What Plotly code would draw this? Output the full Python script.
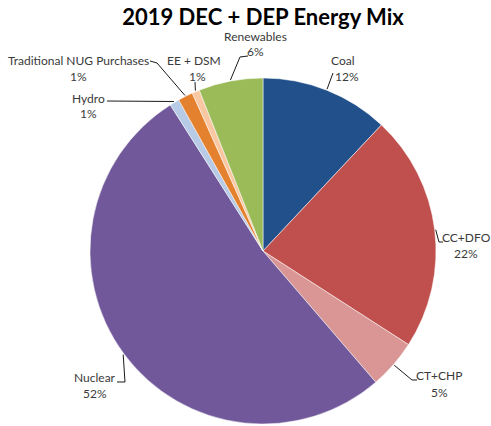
import math
import plotly.graph_objects as go

# Generation mix shares (percent of total), clockwise from 12 o'clock
sources = ["Coal", "CC+DFO", "CT+CHP", "Nuclear", "Hydro",
           "Traditional NUG Purchases", "EE + DSM", "Renewables"]
shares = [12.0, 22.1, 4.6, 52.3, 0.9, 1.4, 0.7, 6.0]
colors = ["#21508A", "#C0504D", "#D99694", "#71589A", "#B7CBE6",
          "#E4812F", "#F9C7A2", "#9BBB59"]

W, H = 491, 426
CX, CY, R = 263, 251, 173  # pie centre and radius in pixels

# Label placement (pixels): name centre, percent centre, leader-line bends
label_layout = {
    "Coal": ((343, 60), (347, 76), [(333, 73)]),
    "CC+DFO": ((466, 238), (466, 253), [(443, 242), (439, 242)]),
    "CT+CHP": ((439, 375), (439, 392), [(417, 380), (412, 380)]),
    "Nuclear": ((95, 377), (95, 393), [(117, 382), (125, 382)]),
    "Hydro": ((88, 98), (88, 114), [(107, 101)]),
    "Traditional NUG Purchases": ((78, 61), (78, 76), [(150, 61), (157, 63)]),
    "EE + DSM": ((194, 60), (197, 76), [(195, 82)]),
    "Renewables": ((255, 36), (255, 52), [(248, 56), (240, 57)]),
}


def px(x):
    return x / W


def py(y):
    return 1 - y / H


fig = go.Figure(go.Pie(
    labels=sources,
    values=shares,
    sort=False,
    direction="clockwise",
    rotation=0,
    marker=dict(colors=colors, line=dict(color="white", width=0.5)),
    textinfo="none",
    hoverinfo="label+percent",
    domain=dict(x=[(CX - R) / W, (CX + R) / W],
                y=[(H - CY - R) / H, (H - CY + R) / H]),
    showlegend=False,
))

total = sum(shares)
annotations = []
shapes = []
cum = 0.0
for name, val in zip(sources, shares):
    theta = 2 * math.pi * (cum + val / 2) / total
    cum += val
    ax = CX + (R + 1) * math.sin(theta)
    ay = CY - (R + 1) * math.cos(theta)
    name_pos, pct_pos, bends = label_layout[name]
    pts = bends + [(ax, ay)]
    path = "M " + " L ".join(f"{px(x):.5f},{py(y):.5f}" for x, y in pts)
    shapes.append(dict(type="path", path=path, xref="paper", yref="paper",
                       line=dict(color="#1a1a1a", width=1)))
    font = dict(family="Lato, sans-serif", size=12, color="#3a3a3a")
    annotations.append(dict(text=name, x=px(name_pos[0]), y=py(name_pos[1]),
                            xref="paper", yref="paper", showarrow=False,
                            xanchor="center", yanchor="middle", font=font))
    annotations.append(dict(text=f"{round(val / total * 100)}%",
                            x=px(pct_pos[0]), y=py(pct_pos[1]),
                            xref="paper", yref="paper", showarrow=False,
                            xanchor="center", yanchor="middle", font=font))

fig.update_layout(
    width=W, height=H,
    margin=dict(l=0, r=0, t=0, b=0),
    paper_bgcolor="white",
    title=dict(text="<b>2019 DEC + DEP Energy Mix</b>",
               x=263 / W, y=1 - 17 / H, xanchor="center", yanchor="middle",
               xref="paper", yref="container",
               font=dict(family="Lato, sans-serif", size=22, color="black")),
    annotations=annotations,
    shapes=shapes,
)

fig.write_html("out.html")
